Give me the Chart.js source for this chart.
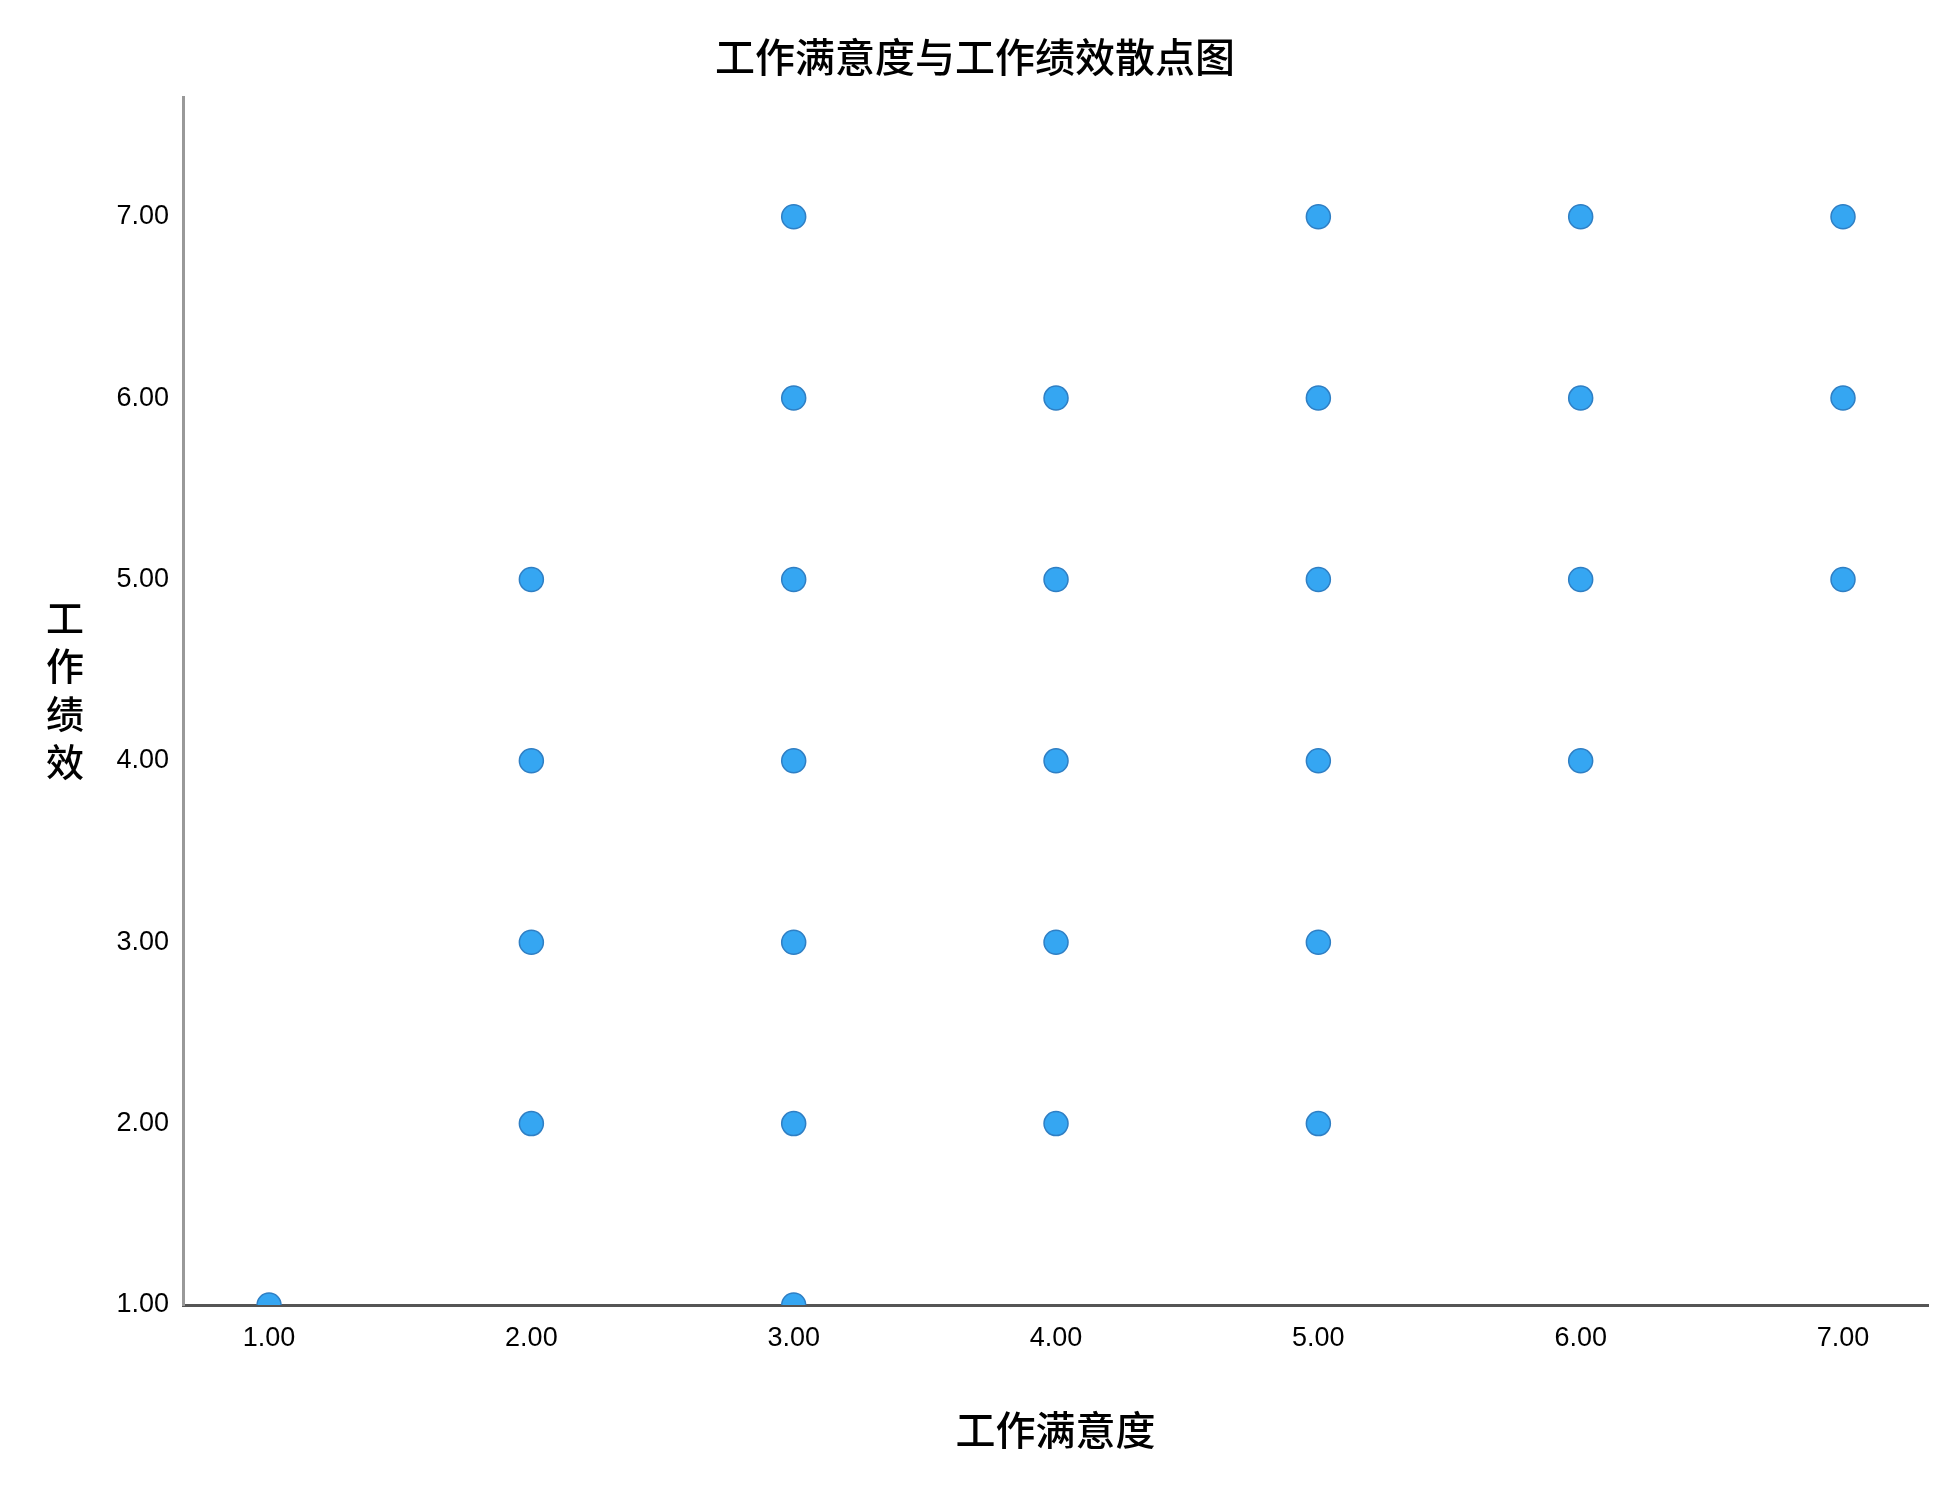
<!DOCTYPE html>
<html>
<head>
<meta charset="utf-8">
<script src="https://cdn.jsdelivr.net/npm/chart.js@4"></script>
<style>
  body { margin: 0; background: #fff; }
  #wrap { width: 1950px; height: 1500px; }
</style>
</head>
<body>
<div id="wrap"><canvas id="scatterChart" width="1950" height="1500"></canvas></div>
<script>
// 工作满意度 (x) 与 工作绩效 (y)，每个点一对
const satisfaction = [1, 2, 2, 2, 2, 3, 3, 3, 3, 3, 3, 3, 4, 4, 4, 4, 4, 5, 5, 5, 5, 5, 5, 6, 6, 6, 6, 7, 7, 7]
const performance  = [1, 5, 4, 3, 2, 7, 6, 5, 4, 3, 2, 1, 6, 5, 4, 3, 2, 7, 6, 5, 4, 3, 2, 7, 6, 5, 4, 7, 6, 5]

const xTicks = [1, 2, 3, 4, 5, 6, 7]
const yTicks = [1, 2, 3, 4, 5, 6, 7]

const titleText = '工作满意度与工作绩效散点图'
const xTitle = '工作满意度'
const yTitle = '工作绩效'

const cjk = '"Noto Sans CJK SC", "Noto Sans", sans-serif'
const num = '"Liberation Sans", Arial, sans-serif'

const points = satisfaction.map((x, i) => ({ x: x, y: performance[i] }))

// y 轴标题竖排
const verticalTitle = {
    id: 'verticalTitle',
    afterDraw(chart) {
        const ctx = chart.ctx
        const chars = Array.from(yTitle)
        const step = 48
        const cy = 690
        ctx.save()
        ctx.font = '500 38px ' + cjk
        ctx.fillStyle = '#000'
        ctx.textAlign = 'center'
        ctx.textBaseline = 'middle'
        chars.forEach((c, i) => {
            ctx.fillText(c, 65, cy + (i - (chars.length - 1) / 2) * step)
        })
        ctx.restore()
    }
}

const config = {
    type: 'scatter',
    data: {
        datasets: [{
            label: yTitle,
            data: points,
            backgroundColor: '#35a6f2',
            borderColor: '#2f7fc4',
            borderWidth: 1.5,
            pointRadius: 12,
            clip: 0
        }]
    },
    options: {
        responsive: false,
        animation: false,
        devicePixelRatio: 1,
        layout: {
            padding: { left: 22, right: 22, top: 0, bottom: 0 }
        },
        scales: {
            x: {
                type: 'linear',
                min: 0.672,
                max: 7.324,
                afterBuildTicks: s => { s.ticks = xTicks.map(v => ({ value: v })) },
                afterFit: s => { s.height = 195 },
                grid: { display: false, drawTicks: false },
                border: { color: '#555', width: 3 },
                ticks: {
                    color: '#000',
                    padding: 17,
                    font: { family: num, size: 27 },
                    callback: v => Number(v).toFixed(2)
                },
                title: {
                    display: true,
                    text: xTitle,
                    color: '#000',
                    font: { family: cjk, size: 40, weight: '500' },
                    padding: { top: 0, bottom: 46 }
                }
            },
            y: {
                type: 'linear',
                min: 1,
                max: 7.66,
                afterBuildTicks: s => { s.ticks = yTicks.map(v => ({ value: v })) },
                afterFit: s => { s.width = 161 },
                grid: { display: false, drawTicks: false },
                border: { color: '#999', width: 3 },
                ticks: {
                    color: '#000',
                    padding: 14,
                    font: { family: num, size: 27 },
                    callback: v => Number(v).toFixed(2)
                }
            }
        },
        plugins: {
            legend: { display: false },
            tooltip: { enabled: false },
            title: {
                display: true,
                text: titleText,
                color: '#000',
                font: { family: cjk, size: 40, weight: '500' },
                padding: { top: 33, bottom: 16 }
            }
        }
    },
    plugins: [verticalTitle]
}

const scatterChart = new Chart(document.getElementById('scatterChart'), config)
</script>
</body>
</html>
